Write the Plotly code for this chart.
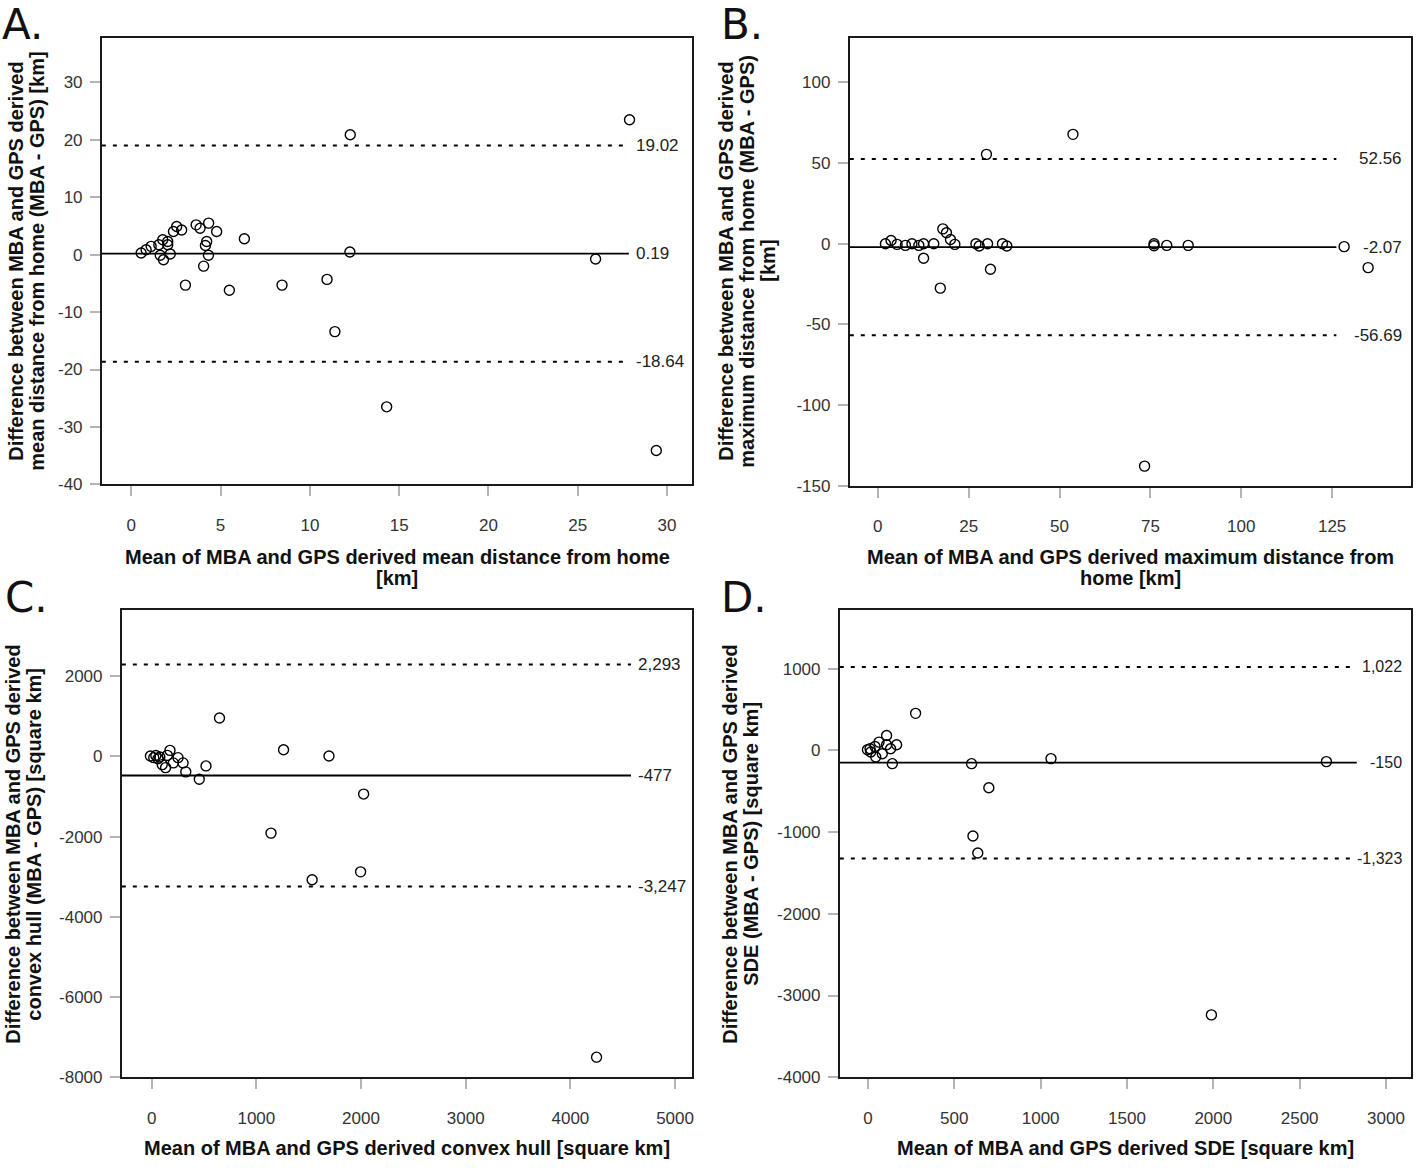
import plotly.graph_objects as go

W, H = 1418, 1171

# ---------------- data ----------------
# Panel A: mean distance from home [km]
a_mean = [12.26, 0.55, 0.83, 1.11, 1.54, 1.76, 2.04, 2.04, 1.62, 1.80, 2.18, 2.36, 2.54, 2.82,
          3.03, 3.63, 3.85, 4.33, 4.78, 4.22, 4.15, 4.32, 4.05, 5.49, 6.33, 8.44, 10.96, 12.24,
          11.4, 14.3, 26.0, 27.9, 29.4]
a_diff = [20.9, 0.3, 0.87, 1.45, 1.73, 2.6, 2.3, 1.73, -0.1, -0.87, 0.12, 4.05, 4.9, 4.3,
          -5.3, 5.2, 4.6, 5.5, 4.05, 2.3, 1.6, -0.1, -2.0, -6.2, 2.77, -5.3, -4.3, 0.47,
          -13.4, -26.5, -0.74, 23.5, -34.1]
a_limits = [19.02, 0.19, -18.64]
a_limit_labels = ["19.02", "0.19", "-18.64"]

# Panel B: maximum distance from home [km]
b_mean = [53.7, 29.9, 2.1, 3.65, 5.3, 7.6, 9.4, 11.3, 12.6, 12.6, 15.4, 17.2, 17.9, 18.9, 20.0,
          21.2, 27.0, 27.9, 30.2, 31.0, 34.3, 35.5, 76.0, 76.0, 79.5, 85.4, 128.3, 134.9, 73.4]
b_diff = [67.8, 55.4, 0.0, 2.0, -0.4, -1.0, 0.0, -1.0, 0.0, -9.0, 0.0, -27.5, 9.2, 6.8, 2.6,
          -0.4, 0.0, -1.4, 0.0, -15.8, 0.0, -1.4, 0.0, -1.2, -1.0, -1.0, -1.8, -14.8, -137.8]
b_limits = [52.56, -2.07, -56.69]
b_limit_labels = ["52.56", "-2.07", "-56.69"]

# Panel C: convex hull [square km]
c_mean = [648, 1260, 1694, 2025, 1140, -12, 20, 78, 150, 175, 101, 133, 207, 252, 300, 326,
          455, 519, 1533, 1996, 4250, 40, 60]
c_diff = [958, 166, 10, -940, -1913, 10, -32, -15, 25, 149, -205, -280, -163, -32, -163, -386,
          -569, -238, -3077, -2879, -7500, 20, -60]
c_limits = [2293, -477, -3247]
c_limit_labels = ["2,293", "-477", "-3,247"]

# Panel D: SDE [square km]
d_mean = [276, 141, 600, 700, -3, 16, 45, 41, 64, 83, 108, 108, 131, 166, 12, 1060, 2655,
          608, 636, 1989]
d_diff = [454, -162, -162, -457, 8, -20, -80, 49, 102, -40, 183, 70, 21, 70, 21, -100, -137,
          -1048, -1255, -3237]
d_limits = [1022, -150, -1323]
d_limit_labels = ["1,022", "-150", "-1,323"]

a_xticks = [0, 5, 10, 15, 20, 25, 30]
a_yticks = [30, 20, 10, 0, -10, -20, -30, -40]
b_xticks = [0, 25, 50, 75, 100, 125]
b_yticks = [100, 50, 0, -50, -100, -150]
c_xticks = [0, 1000, 2000, 3000, 4000, 5000]
c_yticks = [2000, 0, -2000, -4000, -6000, -8000]
d_xticks = [0, 500, 1000, 1500, 2000, 2500, 3000]
d_yticks = [1000, 0, -1000, -2000, -3000, -4000]

# ---------------- layout helpers ----------------
def px_x(p):
    return p / W

def px_y(p):
    return 1 - p / H

panels = [
    dict(x=a_mean, y=a_diff, lim=a_limits, lab=a_limit_labels, xt=a_xticks, yt=a_yticks,
         xr=[-1.65, 31.4], yr=[-40, 37.8], box=(102, 38, 693, 488.5), lend=0.893,
         labx=0.902, align="left", lsize=17),
    dict(x=b_mean, y=b_diff, lim=b_limits, lab=b_limit_labels, xt=b_xticks, yt=b_yticks,
         xr=[-7.7, 146.7], yr=[-150, 127.7], box=(851, 38, 1413, 490), lend=0.867,
         labx=0.9875, align="right", lsize=17),
    dict(x=c_mean, y=c_diff, lim=c_limits, lab=c_limit_labels, xt=c_xticks, yt=c_yticks,
         xr=[-285, 5162], yr=[-8000, 3656], box=(122, 615, 693, 1086.5), lend=0.893,
         labx=0.902, align="left", lsize=17),
    dict(x=d_mean, y=d_diff, lim=d_limits, lab=d_limit_labels, xt=d_xticks, yt=d_yticks,
         xr=[-163, 3145], yr=[-4000, 1722], box=(841, 615, 1413, 1086.5), lend=0.905,
         labx=0.9875, align="right", lsize=16),
]

fig = go.Figure()
shapes = []
annotations = []
layout_axes = {}

TICKFONT = dict(family="Liberation Sans, Arial", size=17, color="#333333")
TITLEFONT = dict(family="Liberation Sans, Arial", size=20, color="#111111")

for i, p in enumerate(panels):
    n = "" if i == 0 else str(i + 1)
    xa, ya = "x" + n, "y" + n
    l, t, r, b = p["box"]
    fig.add_trace(go.Scatter(
        x=p["x"], y=p["y"], mode="markers", xaxis=xa, yaxis=ya,
        marker=dict(symbol="circle-open", size=10, color="black", line=dict(width=1.4)),
        showlegend=False, hoverinfo="skip"))
    common = dict(showgrid=False, zeroline=False, showline=True, mirror=True,
                  linecolor="#1a1a1a", linewidth=1.8, ticks="outside", ticklen=10,
                  tickwidth=1.5, tickcolor="#b4b4b4", tickfont=TICKFONT)
    layout_axes["xaxis" + n] = dict(domain=[px_x(l), px_x(r)], range=p["xr"], anchor=ya,
                                    tickvals=p["xt"], ticktext=[str(v) for v in p["xt"]],
                                    ticklabelstandoff=14, **common)
    layout_axes["yaxis" + n] = dict(domain=[px_y(b), px_y(t)], range=p["yr"], anchor=xa,
                                    tickvals=p["yt"], ticktext=[str(v) for v in p["yt"]],
                                    ticklabelstandoff=4, **common)
    for k, (v, txt) in enumerate(zip(p["lim"], p["lab"])):
        shapes.append(dict(type="line", xref=xa + " domain", yref=ya, x0=0, x1=p["lend"],
                           y0=v, y1=v, layer="below",
                           line=dict(color="black", width=1.8 if k == 1 else 2,
                                     dash="solid" if k == 1 else "4px,7px")))
        annotations.append(dict(xref=xa + " domain", yref=ya, x=p["labx"], y=v, text=txt,
                                showarrow=False, xanchor=p["align"], yanchor="middle",
                                font=dict(family="Liberation Sans, Arial", size=p["lsize"],
                                          color="#222222")))

# panel letters
for txt, x, y in [("A.", 0, 0), ("B.", 720, 0), ("C.", 3, 578), ("D.", 720, 578)]:
    annotations.append(dict(xref="paper", yref="paper", x=px_x(x), y=px_y(y), text=txt,
                            showarrow=False, xanchor="left", yanchor="top", yshift=2,
                            font=dict(family="DejaVu Sans", size=42, color="#111111")))

# y-axis titles (one annotation per line)
ytitles = [
    (["Difference between MBA and GPS derived", "mean distance from home (MBA - GPS) [km]"],
     [16, 37], 263),
    (["Difference between MBA and GPS derived", "maximum distance from home (MBA - GPS)", "[km]"],
     [727, 748, 769], 263),
    (["Difference between MBA and GPS derived", "convex hull (MBA - GPS) [square km]"],
     [13, 34], 851),
    (["Difference between MBA and GPS derived", "SDE (MBA - GPS) [square km]"],
     [731, 752], 851),
]
for lines, xs, yc in ytitles:
    for line, x in zip(lines, xs):
        annotations.append(dict(xref="paper", yref="paper", x=px_x(x), y=px_y(yc),
                                text="<b>%s</b>" % line, showarrow=False, textangle=-90,
                                xanchor="center", yanchor="middle", font=TITLEFONT))

xtitles = [
    (["Mean of MBA and GPS derived mean distance from home", "[km]"], 398, [562, 583]),
    (["Mean of MBA and GPS derived maximum distance from", "home [km]"], 1132, [562, 583]),
    (["Mean of MBA and GPS derived convex hull [square km]"], 408, [1158]),
    (["Mean of MBA and GPS derived SDE [square km]"], 1127, [1158]),
]
for lines, xc, ys in xtitles:
    for line, y in zip(lines, ys):
        annotations.append(dict(xref="paper", yref="paper", x=px_x(xc), y=px_y(y),
                                text="<b>%s</b>" % line, showarrow=False,
                                xanchor="center", yanchor="middle", font=TITLEFONT))

fig.update_layout(width=W, height=H, margin=dict(l=0, r=0, t=0, b=0),
                  paper_bgcolor="white", plot_bgcolor="white",
                  shapes=shapes, annotations=annotations, **layout_axes)

fig.write_html("out.html", config={"displayModeBar": False},
               post_script="document.body.style.margin='0';document.body.style.overflow='hidden';")
